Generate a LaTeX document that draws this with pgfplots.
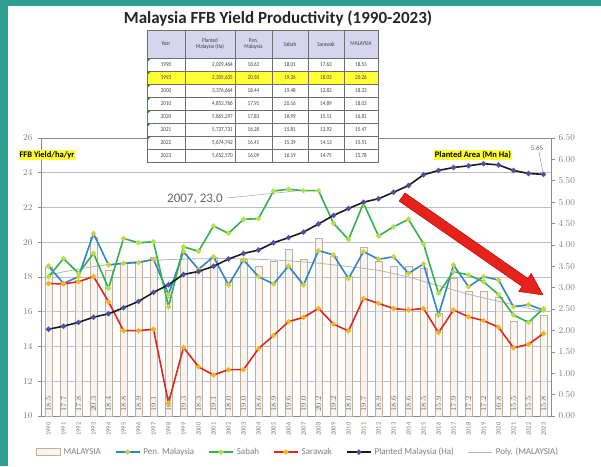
\documentclass[border=0pt]{standalone}
\usepackage{fontspec}
\setmainfont{Carlito}
\newfontfamily\tabfont[FakeStretch=0.85]{Carlito}
\usepackage{pgfplots}
\usepackage{pgfplotstable}
\pgfplotsset{compat=1.18}

\definecolor{bgteal}{HTML}{2E9E90}
\definecolor{penblue}{HTML}{2F86C6}
\definecolor{sabgreen}{HTML}{33B24A}
\definecolor{sarred}{HTML}{E2261F}
\definecolor{mkyel}{HTML}{C9D33A}
\definecolor{mkgreen}{HTML}{B6E04A}
\definecolor{mkorange}{HTML}{F2B51E}
\definecolor{mkblue}{HTML}{4A4FA8}
\definecolor{plantline}{HTML}{1A1A1A}
\definecolor{barline}{HTML}{BFAF9C}
\definecolor{barfill}{HTML}{F4EFE8}
\definecolor{gridc}{HTML}{BCBCCF}
\definecolor{txtgray}{HTML}{7F7F7F}
\definecolor{labgray}{HTML}{6A6A6A}
\definecolor{polyc}{HTML}{B5B5B5}
\definecolor{axgray}{HTML}{8C8C8C}
\definecolor{anngray}{HTML}{666666}
\definecolor{hdrfill}{HTML}{D5D5EE}
\definecolor{hilite}{HTML}{FFFF33}
\definecolor{tabline}{HTML}{6F6F6F}
\definecolor{tabtext}{HTML}{404040}
\definecolor{arrowred}{HTML}{E5231B}

\pgfplotstableread{
idx year mal pen sabah sarawak planted poly
0  1990 18.53 18.63 18.01 17.63 2.03 18.10
1  1991 17.70 17.63 19.07 17.60 2.10 18.30
2  1992 17.80 18.02 18.21 17.73 2.19 18.45
3  1993 20.26 20.50 19.36 18.03 2.31 18.60
4  1994 18.40 18.69 17.35 16.58 2.39 18.72
5  1995 18.80 18.79 20.22 14.91 2.53 18.82
6  1996 18.90 18.83 19.97 14.91 2.68 18.90
7  1997 19.10 19.02 20.03 14.99 2.89 18.96
8  1998 16.80 17.00 16.29 10.75 3.07 19.00
9  1999 19.30 19.46 19.74 13.95 3.31 19.03
10 2000 18.33 18.44 19.48 12.83 3.38 19.05
11 2001 19.10 19.17 20.94 12.36 3.50 19.06
12 2002 18.00 17.54 20.51 12.67 3.67 19.06
13 2003 19.00 18.98 21.32 12.67 3.80 19.05
14 2004 18.60 18.02 21.36 13.88 3.88 19.02
15 2005 18.90 17.60 22.95 14.63 4.05 18.98
16 2006 19.60 18.63 23.05 15.43 4.17 18.93
17 2007 19.00 17.54 22.97 15.68 4.30 18.87
18 2008 20.20 19.52 22.97 16.19 4.49 18.80
19 2009 19.20 19.27 21.09 15.29 4.69 18.70
20 2010 18.03 17.91 20.16 14.89 4.85 18.60
21 2011 19.70 19.46 22.24 16.77 5.00 18.50
22 2012 18.90 19.02 20.36 16.48 5.08 18.38
23 2013 18.60 19.17 20.89 16.19 5.23 18.20
24 2014 18.60 18.21 21.32 16.10 5.39 18.00
25 2015 18.50 18.75 19.90 16.19 5.64 17.75
26 2016 15.90 15.81 17.06 14.80 5.74 17.50
27 2017 17.90 18.69 18.31 16.10 5.81 17.25
28 2018 17.20 17.44 18.12 15.71 5.85 17.00
29 2019 17.20 18.02 17.73 15.49 5.90 16.80
30 2020 16.81 17.83 16.99 15.11 5.87 16.60
31 2021 15.47 16.28 15.81 13.92 5.74 16.40
32 2022 15.51 16.41 15.39 14.13 5.67 16.20
33 2023 15.78 16.09 16.19 14.75 5.65 16.00
}\yd

\begin{document}
\begin{tikzpicture}
\useasboundingbox (0pt,0pt) rectangle (601pt,466pt);
\fill[bgteal] (0pt,0pt) rectangle (601pt,466pt);
\fill[white] (8pt,0pt) rectangle (601pt,460pt);

% ---------- left axis (yield) ----------
\begin{axis}[
  at={(41pt,50pt)}, anchor=south west,
  width=510pt, height=278pt, scale only axis,
  xmin=-0.5, xmax=33.5, ymin=10, ymax=26,
  ytick={10,12,...,26},
  xtick={0,...,33},
  xticklabels={1990,1991,1992,1993,1994,1995,1996,1997,1998,1999,2000,2001,2002,2003,2004,2005,2006,2007,2008,2009,2010,2011,2012,2013,2014,2015,2016,2017,2018,2019,2020,2021,2022,2023},
  ytick pos=left, xtick pos=bottom, tick align=outside,
  major tick length=3pt,
  xtick style={draw=none},
  ytick style={draw=axgray, line width=0.6pt},
  axis line style={draw=axgray, line width=0.7pt},
  ymajorgrids, grid style={draw=gridc, line width=0.9pt},
  yticklabel style={font=\fontsize{9}{10}\selectfont, text=txtgray, xshift=-2pt},
  xticklabel style={font=\fontsize{6.5}{7}\selectfont, text=txtgray, rotate=90, anchor=east},
  legend style={at={(0.504,-0.13)}, anchor=center, draw=none, fill=none,
    legend columns=6, font=\fontsize{9}{10}\selectfont, text=txtgray,
    /tikz/every even column/.append style={column sep=12pt},
    /tikz/every odd column/.append style={column sep=1pt}},
  legend image code/.code={\draw[mark repeat=2,mark phase=2,#1] plot coordinates {(0pt,0pt) (12pt,0pt) (24pt,0pt)};},
]
\addplot[ybar, bar shift=0pt, bar width=7pt, draw=barline, line width=0.8pt,
  fill=barfill, fill opacity=0.6,
  legend image code/.code={\draw[draw=barline,fill=barfill,line width=0.8pt] (0pt,-3.5pt) rectangle (24pt,3.5pt);}]
  table[x=idx,y=mal]{\yd};
\addplot[forget plot, draw=none, mark=none, nodes near coords, point meta=explicit,
  every node near coord/.append style={rotate=90, anchor=west, inner sep=0pt,
    font=\fontsize{8.5}{9}\selectfont, text=labgray,
    /pgf/number format/fixed, /pgf/number format/fixed zerofill, /pgf/number format/precision=1}]
  table[x=idx, y expr=10.25, meta=mal]{\yd};
\addplot[forget plot, polyc, line width=0.8pt] table[x=idx,y=poly]{\yd};
\addplot[penblue, line width=1.6pt, mark=*, mark size=1.7pt, mark options={fill=mkyel, draw=mkyel}]
  table[x=idx,y=pen]{\yd};
\addplot[sabgreen, line width=1.6pt, mark=*, mark size=1.7pt, mark options={fill=mkgreen, draw=mkgreen}]
  table[x=idx,y=sabah]{\yd};
\addplot[sarred, line width=1.6pt, mark=*, mark size=1.7pt, mark options={fill=mkorange, draw=mkorange}]
  table[x=idx,y=sarawak]{\yd};
\addlegendimage{plantline, line width=1.6pt, mark=*, mark size=1.7pt, mark options={fill=mkblue, draw=mkblue}}
\addlegendimage{polyc, line width=0.8pt}
\legend{MALAYSIA, Pen. Malaysia, Sabah, Sarawak, Planted Malaysia (Ha), Poly. (MALAYSIA)}
\end{axis}

% ---------- right axis (planted area) ----------
\begin{axis}[
  at={(41pt,50pt)}, anchor=south west,
  width=510pt, height=278pt, scale only axis,
  xmin=-0.5, xmax=33.5, ymin=0, ymax=6.5,
  axis y line*=right, axis x line=none,
  ytick={0,0.5,1,1.5,2,2.5,3,3.5,4,4.5,5,5.5,6,6.5},
  tick align=outside, major tick length=4pt,
  ytick style={draw=axgray, line width=0.6pt},
  axis line style={draw=axgray, line width=0.7pt},
  yticklabel style={font=\fontsize{9}{10}\selectfont, text=txtgray,
    /pgf/number format/fixed, /pgf/number format/fixed zerofill, /pgf/number format/precision=2},
]
\addplot[plantline, line width=1.6pt, mark=*, mark size=1.7pt, mark options={fill=mkblue, draw=mkblue}]
  table[x=idx,y=planted]{\yd};
\end{axis}

\begin{scope}[x=1pt, y=-1pt, shift={(0pt,466pt)}]
% ---------- annotations ----------
\node[font=\fontsize{13}{14}\selectfont, text=anngray] at (195,199) {2007, 23.0};
\draw[anngray!60, line width=0.5pt] (227,198) -- (296,191);
\node[fill=hilite, inner sep=1pt, font=\bfseries\fontsize{8.5}{9}\selectfont] at (47,155) {FFB Yield/ha/yr};
\node[fill=hilite, inner sep=1pt, font=\bfseries\fontsize{8.5}{9}\selectfont] at (473,155) {Planted Area (Mn Ha)};
\node[font=\fontsize{7}{8}\selectfont, text=anngray] at (537,148) {5.65};
\draw[gray, line width=0.4pt] (539,152) -- (543,173);

% big red arrow
\fill[arrowred, draw=red!70!black, line width=0.4pt]
  (399.1,201.1) -- (522.1,286.5) -- (518.6,291.5) -- (543,295) -- (531.2,273.4) -- (527.8,278.3) -- (404.9,192.9) -- cycle;

% ---------- title ----------
\node[font=\bfseries\fontsize{17}{20}\selectfont, text=black!85] at (278,19) {Malaysia FFB Yield Productivity (1990-2023)};

% ---------- table ----------
\fill[white] (147,30) rectangle (378,162);
\fill[hdrfill] (147,30) rectangle (378,58);
\fill[hilite] (147,71) rectangle (378,84);
\foreach \yy in {58,71,84,97,110,123,136,149} \draw[tabline, line width=0.5pt] (147,\yy) -- (378,\yy);
\foreach \xx in {185,235,272,308,344} \draw[tabline, line width=0.5pt] (\xx,30) -- (\xx,162);
\draw[tabline, line width=0.9pt] (147,30) rectangle (378,162);
\foreach \i in {0,...,6} \fill[green!55!black] (147.6,58.6+13*\i) -- ++(3,0) -- ++(-3,3) -- cycle;
\begin{scope}[every node/.style={font=\tabfont\fontsize{6}{6.5}\selectfont, text=tabtext, inner sep=0pt, align=center}]
\node at (166,44) {Year};
\node at (210,44) {Planted\\Malaysia (Ha)};
\node at (253.5,44) {Pen.\\Malaysia};
\node at (290,44) {Sabah};
\node at (326,44) {Sarawak};
\node at (361,44) {MALAYSIA};
\foreach \yr/\pl/\pa/\sa/\sr/\ma [count=\i from 0] in {
  1990/{2,029,464}/18.63/18.01/17.63/18.53,
  1993/{2,305,635}/20.50/19.36/18.03/20.26,
  2000/{3,376,664}/18.44/19.48/12.83/18.33,
  2010/{4,853,766}/17.91/20.16/14.89/18.03,
  2020/{5,865,297}/17.83/16.99/15.11/16.81,
  2021/{5,737,731}/16.28/15.81/13.92/15.47,
  2022/{5,674,742}/16.41/15.39/14.13/15.51,
  2023/{5,652,570}/16.09/16.19/14.75/15.78}{
  \pgfmathsetmacro\yc{64.5+13*\i}
  \node at (166,\yc) {\yr};
  \node[anchor=east] at (233,\yc) {\pl};
  \node at (253.5,\yc) {\pa};
  \node at (290,\yc) {\sa};
  \node at (326,\yc) {\sr};
  \node at (361,\yc) {\ma};
}
\end{scope}
\end{scope}
\end{tikzpicture}
\end{document}
